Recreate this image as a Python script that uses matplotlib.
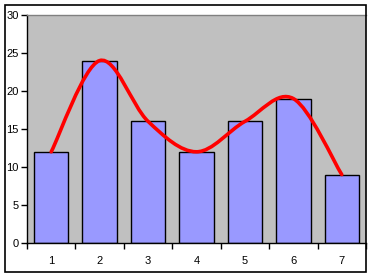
import numpy as np
import matplotlib.pyplot as plt
from matplotlib.path import Path
from matplotlib.patches import PathPatch, Rectangle

plt.rcParams['font.family'] = ['Liberation Sans', 'DejaVu Sans']

categories = ['1', '2', '3', '4', '5', '6', '7']
values = [12, 24, 16, 12, 16, 19, 9]


def smooth_path(x, y):
    # Catmull-Rom style bezier through the points, like Excel's smoothed line
    pts = np.column_stack([x, y]).astype(float)
    verts = [pts[0]]
    codes = [Path.MOVETO]
    n = len(pts)
    for i in range(n - 1):
        p0 = pts[i - 1] if i > 0 else pts[i]
        p1 = pts[i]
        p2 = pts[i + 1]
        p3 = pts[i + 2] if i + 2 < n else pts[i + 1]
        c1 = p1 + (p2 - p0) / 6.0
        c2 = p2 - (p3 - p1) / 6.0
        verts += [c1, c2, p2]
        codes += [Path.CURVE4] * 3
    return Path(verts, codes)


W, H = 372, 277
fig = plt.figure(figsize=(W / 100, H / 100), dpi=100)
ax = fig.add_axes([27 / W, (H - 243) / H, 339 / W, 228 / H])
ax.set_facecolor('#C0C0C0')

x = np.arange(len(values))
ax.bar(x, values, width=0.71, color='#9999FF', edgecolor='black', linewidth=1, zorder=2)
ax.add_patch(PathPatch(smooth_path(x, values), facecolor='none', edgecolor='#FF0000',
                       linewidth=2.6, zorder=3, capstyle='round'))

ax.set_xlim(-0.5, len(values) - 0.5)
ax.set_ylim(0, 30)
ax.set_yticks(np.arange(0, 31, 5))
ax.set_xticks(x)
ax.set_xticklabels(categories)
ax.set_xticks(np.arange(-0.5, len(values), 1), minor=True)
ax.tick_params(axis='x', which='major', length=0, pad=9, labelsize=8)
ax.tick_params(axis='x', which='minor', length=4, direction='out', width=1)
ax.tick_params(axis='y', length=4, direction='out', width=1, pad=2, labelsize=8)

for s in ['top', 'right']:
    ax.spines[s].set_color('#808080')
    ax.spines[s].set_linewidth(1)
for s in ['left', 'bottom']:
    ax.spines[s].set_color('black')
    ax.spines[s].set_linewidth(1)
ax.spines['right'].set_visible(False)

fig.patches.append(Rectangle((5 / W, (H - 272) / H), 361 / W, 267 / H, transform=fig.transFigure,
                             facecolor='none', edgecolor='black', linewidth=1.2, zorder=10))

fig.savefig('out.png', dpi=100)
